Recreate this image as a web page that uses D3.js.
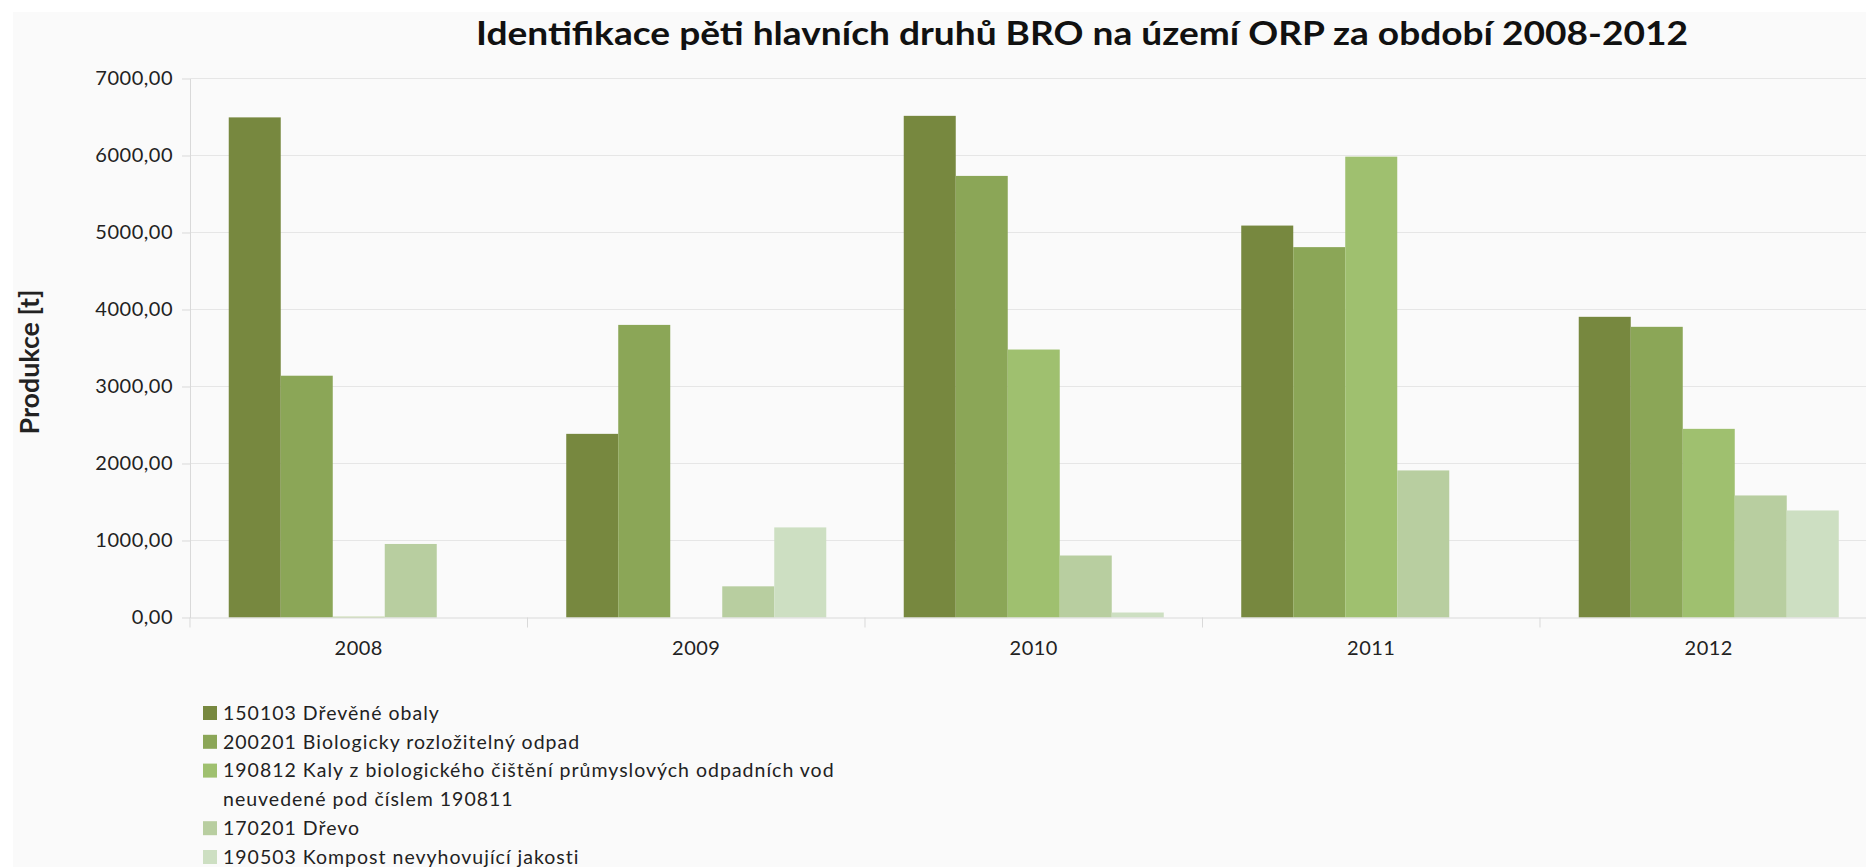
<!DOCTYPE html>
<html><head><meta charset="utf-8">
<script src="https://cdn.jsdelivr.net/npm/d3@7"></script>
<style>html,body{margin:0;padding:0;background:#fff;overflow:hidden}</style>
</head><body><svg id="c" width="1866" height="867"></svg>
<script>
// ---- data ----
const years = ["2008", "2009", "2010", "2011", "2012"];
const seriesNames = [
  "150103 Dřevěné obaly",
  "200201 Biologicky rozložitelný odpad",
  "190812 Kaly z biologického čištění průmyslových odpadních vod neuvedené pod číslem 190811",
  "170201 Dřevo",
  "190503 Kompost nevyhovující jakosti"
];
const dreveneObaly = [6495, 2385, 6515, 5090, 3905];
const bioOdpad     = [3140, 3800, 5735, 4810, 3775];
const kaly         = [10, 0, 3480, 5985, 2450];
const drevo        = [955, 405, 805, 1910, 1585];
const kompost      = [0, 1170, 65, 0, 1390];
const yTicks = [0, 1000, 2000, 3000, 4000, 5000, 6000, 7000];
const titleText = "Identifikace pěti hlavních druhů BRO na území ORP za období 2008-2012";
const yLabel = "Produkce [t]";

// ---- styles ----
const seriesColors = ["#77883f", "#8ba657", "#9fc06f", "#b8cea0", "#cddfc2"];
const FONT = "Lato, 'Open Sans', sans-serif";

const seriesValues = [dreveneObaly, bioOdpad, kaly, drevo, kompost];

const svg = d3.select("#c");
svg.append("rect").attr("x", 13).attr("y", 12).attr("width", 1866).attr("height", 867).attr("fill", "#fafafa");

const left = 190, bandW = 337.5;
const plotRight = left + years.length * bandW;
const x0 = d3.scaleBand().domain(years).range([left, plotRight]).padding(0);
const x1 = d3.scaleBand().domain(d3.range(seriesValues.length)).range([0, x0.bandwidth()])
  .paddingInner(0).paddingOuter(0.745);
const y = d3.scaleLinear().domain([0, 7000]).range([617.5, 78.5]);

const fmt = d3.formatLocale({decimal: ",", thousands: "", grouping: [3], currency: ["", ""]}).format(".2f");

// gridlines
svg.append("g").selectAll("line").data(yTicks.filter(d => d > 0)).join("line")
  .attr("x1", left).attr("x2", plotRight)
  .attr("y1", d => y(d)).attr("y2", d => y(d))
  .attr("stroke", "#e6e6e6").attr("stroke-width", 1.2);

// bars
const groups = svg.append("g").selectAll("g").data(years).join("g")
  .attr("transform", d => `translate(${x0(d)},0)`);
groups.selectAll("rect").data((yr, i) => seriesValues.map((s, k) => ({k, v: s[i]}))).join("rect")
  .attr("x", d => x1(d.k)).attr("width", x1.bandwidth())
  .attr("y", d => y(d.v)).attr("height", d => y(0) - y(d.v))
  .attr("fill", d => seriesColors[d.k]);

// y axis
const ya = svg.append("g").attr("transform", `translate(${left},0)`)
  .call(d3.axisLeft(y).tickValues(yTicks).tickSize(8).tickSizeOuter(0).tickPadding(9).tickFormat(fmt));
ya.select(".domain").attr("stroke", "#d9d9d9");
ya.selectAll(".tick line").attr("stroke", "#d9d9d9");
ya.selectAll("text").attr("font-family", FONT).attr("font-size", 20).attr("fill", "#222")
  .attr("letter-spacing", 0.5);
// axis line extension below baseline
svg.append("line").attr("x1", left).attr("x2", left).attr("y1", y(0)).attr("y2", y(0) + 10)
  .attr("stroke", "#d9d9d9");

// x axis
const xa = svg.append("g").attr("transform", `translate(0,${y(0)})`)
  .call(d3.axisBottom(x0).tickSize(0).tickPadding(23));
xa.select(".domain").attr("stroke", "#d9d9d9").attr("stroke-width", 1.2);
xa.selectAll("text").attr("font-family", FONT).attr("font-size", 20).attr("fill", "#222")
  .attr("letter-spacing", 0.5);
// category separators
svg.append("g").selectAll("line").data(years.slice(1)).join("line")
  .attr("x1", d => x0(d)).attr("x2", d => x0(d))
  .attr("y1", y(0)).attr("y2", y(0) + 10).attr("stroke", "#d9d9d9");

// title
const t = svg.append("text").attr("x", 1082).attr("y", 45).attr("text-anchor", "middle")
  .attr("font-family", FONT).attr("font-weight", 700).attr("font-size", 32).attr("fill", "#111")
  .text(titleText);
if (Math.abs(t.node().getComputedTextLength() - 1212) > 4) t.attr("textLength", 1212).attr("lengthAdjust", "spacingAndGlyphs");

// y label
const yl = svg.append("text").attr("transform", "translate(39,362) rotate(-90)").attr("text-anchor", "middle")
  .attr("font-family", FONT).attr("font-weight", 700).attr("font-size", 26).attr("fill", "#222")
  .text(yLabel);
if (Math.abs(yl.node().getComputedTextLength() - 145) > 3) yl.attr("textLength", 145).attr("lengthAdjust", "spacingAndGlyphs");

// legend
const lg = svg.append("g");
let lineY = 713; const lh = 28.8; const maxW = 640;
seriesNames.forEach((name, k) => {
  lg.append("rect").attr("x", 203).attr("y", lineY - 7).attr("width", 14).attr("height", 14).attr("fill", seriesColors[k]);
  const words = name.split(" ");
  let line = [];
  let tx = lg.append("text").attr("x", 223).attr("y", lineY).attr("dy", "0.35em")
    .attr("font-family", FONT).attr("font-size", 19.5).attr("letter-spacing", 1).attr("fill", "#222");
  words.forEach(w => {
    line.push(w);
    tx.text(line.join(" "));
    if (tx.node().getComputedTextLength() > maxW && line.length > 1) {
      line.pop();
      tx.text(line.join(" "));
      line = [w];
      lineY += lh;
      tx = lg.append("text").attr("x", 223).attr("y", lineY).attr("dy", "0.35em")
        .attr("font-family", FONT).attr("font-size", 19.5).attr("letter-spacing", 1).attr("fill", "#222")
        .text(w);
    }
  });
  lineY += lh;
});
</script></body></html>
